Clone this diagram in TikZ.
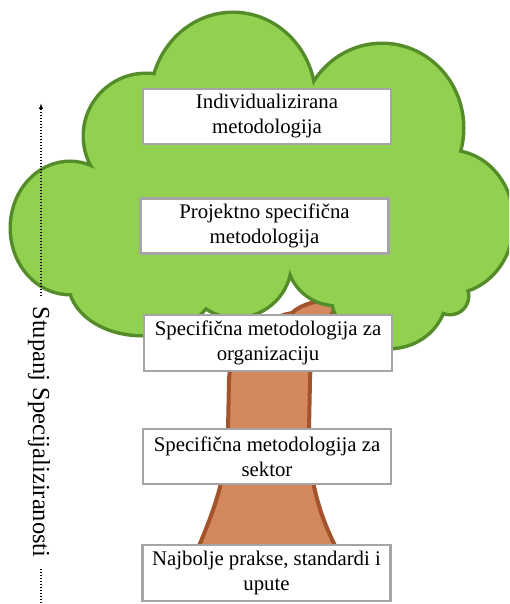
\documentclass[tikz,border=0pt]{standalone}
\usepackage{fontspec}
\setmainfont{Liberation Serif}
\usetikzlibrary{arrows.meta}
\definecolor{leaf}{RGB}{146,208,80}
\definecolor{leafline}{RGB}{84,140,42}
\definecolor{bark}{RGB}{211,136,94}
\definecolor{barkline}{RGB}{163,84,44}
\definecolor{boxgray}{RGB}{165,165,165}
\begin{document}
\begin{tikzpicture}[x=1pt,y=-1pt,
  box/.style={draw=boxgray, line width=2.5pt, fill=white, minimum width=248pt,
    minimum height=55pt, inner sep=0pt, align=center,
    font=\fontsize{20.8}{25}\selectfont},
  lobeline/.style={draw=leafline, line width=7pt},
  lobefill/.style={fill=leaf},
  trunk/.style={fill=bark, draw=barkline, line width=4pt, line join=round},
  dotline/.style={line width=1.2pt, dash pattern=on 1.2pt off 1.8pt}]
\useasboundingbox (0,0) rectangle (509,604);
\clip (0,0) rectangle (509,604);
% trunk
\draw[trunk] (338,300) .. controls (326,330) and (310,350) .. (310,380)
  -- (309,430) .. controls (308,475) and (318,515) .. (340,555)
  -- (195,555) .. controls (214,512) and (228,472) .. (228,430)
  -- (229,380) .. controls (230,345) and (262,318) .. (292,313)
  .. controls (300,305) and (318,299) .. (338,300) -- cycle;
% crown outline
\path[lobeline]
  (233,100) ellipse [x radius=81, y radius=86]
  (382,128) ellipse [x radius=80, y radius=83]
  (450,222) ellipse [x radius=62, y radius=70]
  (450,296) circle [radius=17]
  (389,295) ellipse [x radius=56, y radius=52]
  (336,256) circle [radius=48]
  (236,262) circle [radius=54]
  (142,282) ellipse [x radius=72, y radius=52]
  (70,228) ellipse [x radius=58, y radius=65]
  (146,136) circle [radius=61];
% crown fill
\path[lobefill]
  (233,100) ellipse [x radius=81, y radius=86]
  (382,128) ellipse [x radius=80, y radius=83]
  (450,222) ellipse [x radius=62, y radius=70]
  (450,296) circle [radius=17]
  (389,295) ellipse [x radius=56, y radius=52]
  (336,256) circle [radius=48]
  (236,262) circle [radius=54]
  (142,282) ellipse [x radius=72, y radius=52]
  (70,228) ellipse [x radius=58, y radius=65]
  (146,136) circle [radius=61];
\path[lobefill] (98,172) -- (158,78) -- (312,90) -- (455,156) -- (462,287)
  -- (441,306) -- (334,300) -- (290,262) -- (205,302) -- (75,288) -- cycle;
% boxes
\node[box] (b1) at (267,116.5) {Individualizirana\\metodologija};
\node[box] (b2) at (264.5,226) {Projektno specifična\\metodologija};
\node[box, minimum height=56pt] (b3) at (268,343) {Specifična metodologija za\\organizaciju};
\node[box] (b4) at (267,456.5) {Specifična metodologija za\\sektor};
\node[box, minimum height=56pt] (b5) at (266.5,573) {Najbolje prakse, standardi i\\upute};
% side label and arrow
\node[rotate=-90, anchor=base, inner sep=0pt, font=\fontsize{24.5}{29}\selectfont] (lbl) at (33,432) {Stupanj Specijaliziranosti};
\coordinate (aB) at (41,296);
\coordinate (aT) at (41,103);
\coordinate (dB) at (41,569);
\coordinate (dE) at (41,606);
\draw[dotline, -{Latex[length=6pt, width=4.5pt]}] (aB) -- (aT);
\draw[dotline] (dB) -- (dE);
\end{tikzpicture}
\end{document}
